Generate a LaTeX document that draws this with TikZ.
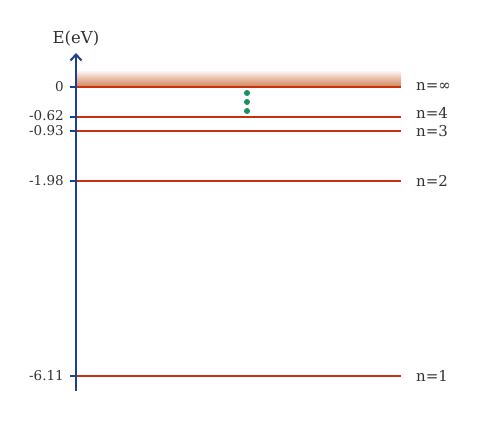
\documentclass[tikz,border=0pt]{standalone}
\usepackage{fontspec}
\setmainfont{DejaVu Serif}
\usetikzlibrary{arrows.meta}
\definecolor{lvl}{HTML}{C8300E}
\definecolor{axisblue}{HTML}{1F3F8F}
\definecolor{dotgreen}{HTML}{1A9060}
\definecolor{shade}{HTML}{D4845A}
\definecolor{txt}{HTML}{333333}
\begin{document}
\begin{tikzpicture}[x=1pt,y=-1pt,
  level/.style={draw=lvl,line width=2pt},
  tick/.style={draw=axisblue,line width=2pt},
  val/.style={anchor=east,inner sep=0pt,text=txt,font=\fontsize{13.5}{13.5}\selectfont},
  nlab/.style={anchor=west,inner sep=0pt,text=txt,font=\fontsize{15}{15}\selectfont},
  gdot/.style={circle,fill=dotgreen,inner sep=0pt,minimum size=6pt}]
\useasboundingbox (0,0) rectangle (483,422);
\fill[top color=white,bottom color=shade,middle color=shade!55] (77,70) rectangle (401,87);
% levels
\foreach \nm/\y in {inf/87,four/117,three/131,two/181,one/376}{
  \coordinate (L\nm) at (76,\y);
  \coordinate (R\nm) at (401,\y);
  \draw[level] (L\nm) -- (R\nm);
  \draw[tick] (70,\y) -- (L\nm);
}
% axis
\coordinate (axb) at (76,391);
\coordinate (axt) at (76,53);
\draw[draw=axisblue,line width=2pt,-{Straight Barb[length=6pt,width=11pt,line width=2pt]}] (axb) -- (axt);
\node[anchor=base,text=txt,font=\fontsize{16.5}{16.5}\selectfont,inner sep=0pt] (elab) at (76,44) {E(eV)};
% values
\node[val] (v0) at (64,87) {0};
\node[val] (v4) at (64,116) {-0.62};
\node[val] (v3) at (64,131) {-0.93};
\node[val] (v2) at (64,181) {-1.98};
\node[val] (v1) at (64,376) {-6.11};
% n labels
\node[nlab] (ninf) at (416,87) {n=∞};
\node[nlab] (n4) at (416,113) {n=4};
\node[nlab] (n3) at (416,131) {n=3};
\node[nlab] (n2) at (416,181) {n=2};
\node[nlab] (n1) at (416,376) {n=1};
% dots
\node[gdot] (d1) at (247,93) {};
\node[gdot] (d2) at (247,102) {};
\node[gdot] (d3) at (247,111) {};
\end{tikzpicture}
\end{document}
